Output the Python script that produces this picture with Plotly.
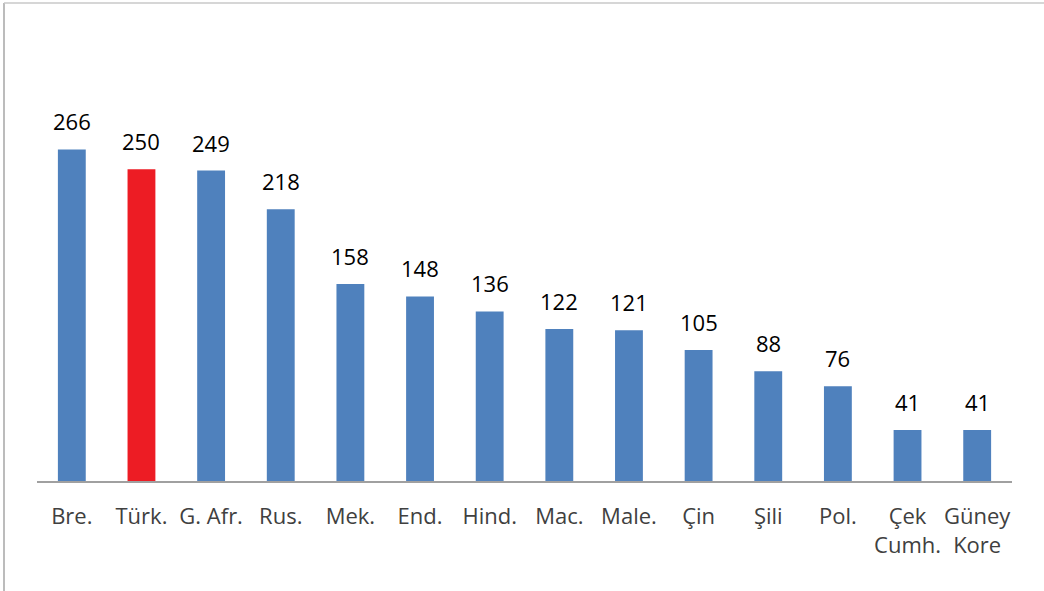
import plotly.graph_objects as go

categories = ["Bre.", "Türk.", "G. Afr.", "Rus.", "Mek.", "End.", "Hind.", "Mac.", "Male.", "Çin", "Şili", "Pol.", "Çek<br>Cumh.", "Güney<br>Kore"]
values = [266, 250, 249, 218, 158, 148, 136, 122, 121, 105, 88, 76, 41, 41]
highlight = "Türk."

BLUE = "#4F81BD"
RED = "#ED1C24"
colors = [RED if c == highlight else BLUE for c in categories]

W, H = 1044, 591
ML, MR, MT, MB = 37, 32, 107, 110
pw = W - ML - MR
ph = H - MT - MB

fig = go.Figure(go.Bar(x=categories, y=values, marker=dict(color=colors, line=dict(width=0)), width=0.4,
                       hoverinfo="skip"))

for c, v in zip(categories, values):
    fig.add_annotation(x=c, y=v, text=str(v), showarrow=False, yanchor="bottom", yshift=11,
                       font=dict(family="Open Sans", size=22, color="#000000"))

# outer frame lines (left and top)
fig.add_shape(type="line", xref="paper", yref="paper",
              x0=(4 - ML) / pw, x1=(4 - ML) / pw, y0=(H - MB - 591) / ph, y1=(H - MB - 3) / ph,
              line=dict(color="#A6A6A6", width=1.5))
fig.add_shape(type="line", xref="paper", yref="paper",
              x0=(4 - ML) / pw, x1=(W - ML) / pw, y0=(H - MB - 3) / ph, y1=(H - MB - 3) / ph,
              line=dict(color="#C8C8C8", width=1.5))

fig.update_layout(
    width=W, height=H,
    margin=dict(l=ML, r=MR, t=MT, b=MB, pad=0),
    plot_bgcolor="white", paper_bgcolor="white",
    showlegend=False,
    font=dict(family="Open Sans", color="#404040"),
    xaxis=dict(showline=True, linecolor="#A0A0A0", linewidth=2, ticks="", showgrid=False,
               tickfont=dict(size=22, color="#404040"), ticklabelstandoff=15, fixedrange=True),
    yaxis=dict(range=[0, 300], visible=False, showgrid=False, fixedrange=True),
    bargap=0.6,
)

fig.write_html("out.html", config={"displayModeBar": False},
               post_script="document.body.style.margin='0';")
